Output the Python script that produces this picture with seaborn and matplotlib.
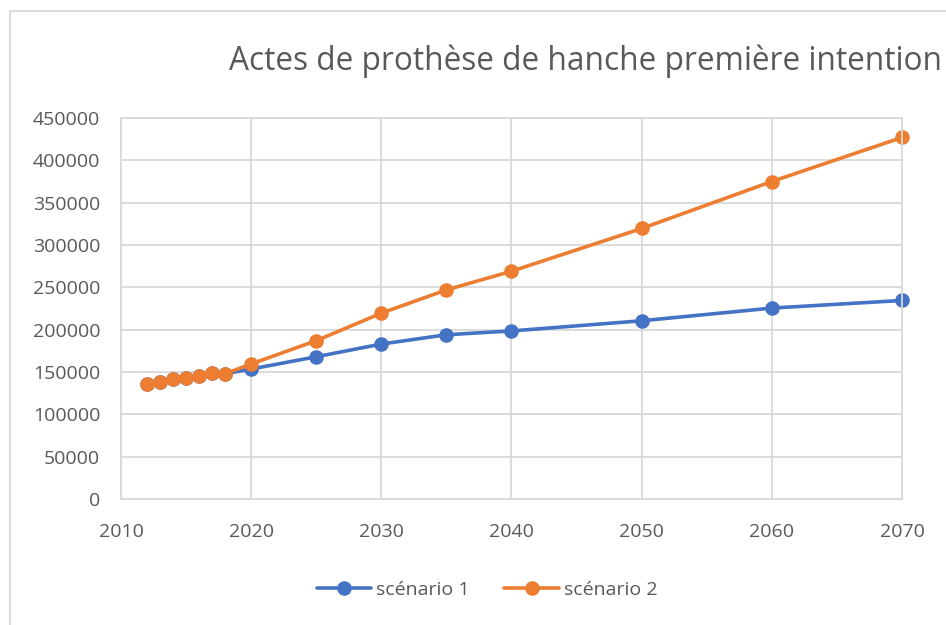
import matplotlib
matplotlib.use("Agg")
import matplotlib.pyplot as plt
import seaborn as sns
import pandas as pd
from matplotlib.lines import Line2D

years = [2012, 2013, 2014, 2015, 2016, 2017, 2018, 2020, 2025, 2030, 2035, 2040, 2050, 2060, 2070]
scenario1 = [135500, 138500, 141500, 143000, 145500, 148500, 148000, 153500, 168000, 183000, 194000, 198500, 210500, 225500, 234500]
scenario2 = [135500, 138500, 141500, 143000, 145500, 148500, 148000, 159500, 187000, 219500, 247000, 269000, 319500, 375000, 427000]
series_names = ["scénario 1", "scénario 2"]
title = "Actes de prothèse de hanche première intention"
x_ticks = [2010, 2020, 2030, 2040, 2050, 2060, 2070]
y_ticks = list(range(0, 450001, 50000))

df = pd.DataFrame({
    "Année": years * 2,
    "Actes": scenario1 + scenario2,
    "Scénario": [series_names[0]] * len(years) + [series_names[1]] * len(years),
})

sns.set_style("white")
plt.rcParams["font.family"] = ["Open Sans", "DejaVu Sans"]
text_color = "#595959"
grid_color = "#d9d9d9"
palette = {series_names[0]: "#4472C4", series_names[1]: "#ED7D31"}

fig = plt.figure(figsize=(9.46, 6.25), dpi=100)
W, H = 946, 625
ax = fig.add_axes([121 / W, 1 - 499 / H, (902 - 121) / W, (499 - 118) / H])

sns.lineplot(data=df, x="Année", y="Actes", hue="Scénario", palette=palette,
             marker="o", markersize=10.5, markeredgewidth=0, linewidth=2.6,
             ax=ax, legend=False)

ax.set_xlim(2010, 2070)
ax.set_ylim(0, 450000)
ax.set_xticks(x_ticks)
ax.set_yticks(y_ticks)
ax.set_xticklabels([str(v) for v in x_ticks])
ax.set_yticklabels([str(v) for v in y_ticks])
ax.set_xlabel("")
ax.set_ylabel("")
ax.grid(True, color=grid_color, linewidth=1.3)
ax.set_axisbelow(True)
for s in ax.spines.values():
    s.set_color(grid_color)
    s.set_linewidth(1.3)
ax.tick_params(axis="both", length=0, labelsize=14, colors=text_color)
ax.tick_params(axis="y", pad=15)
ax.tick_params(axis="x", pad=17)
for ln in ax.lines:
    ln.set_clip_on(False)

fig.text(585 / W, 1 - 61 / H, title, ha="center", va="center",
         fontsize=22.8, color=text_color)

handles = [Line2D([0], [0], color=palette[n], marker="o", markersize=10.5,
                  markeredgewidth=0, linewidth=2.6) for n in series_names]
fig.legend(handles, series_names, loc="center", bbox_to_anchor=(487 / W, 1 - 590 / H),
           ncol=2, frameon=False, fontsize=14, labelcolor=text_color,
           handlelength=2.8, columnspacing=1.8, handletextpad=0.25)

# outer chart border (Excel-style)
fig.add_artist(Line2D([10 / W, 10 / W], [0, 1 - 11 / H], transform=fig.transFigure,
                      color="#d9d9d9", linewidth=1.3))
fig.add_artist(Line2D([10 / W, 1], [1 - 11 / H, 1 - 11 / H], transform=fig.transFigure,
                      color="#d9d9d9", linewidth=1.3))

fig.savefig("out.png", dpi=100)
